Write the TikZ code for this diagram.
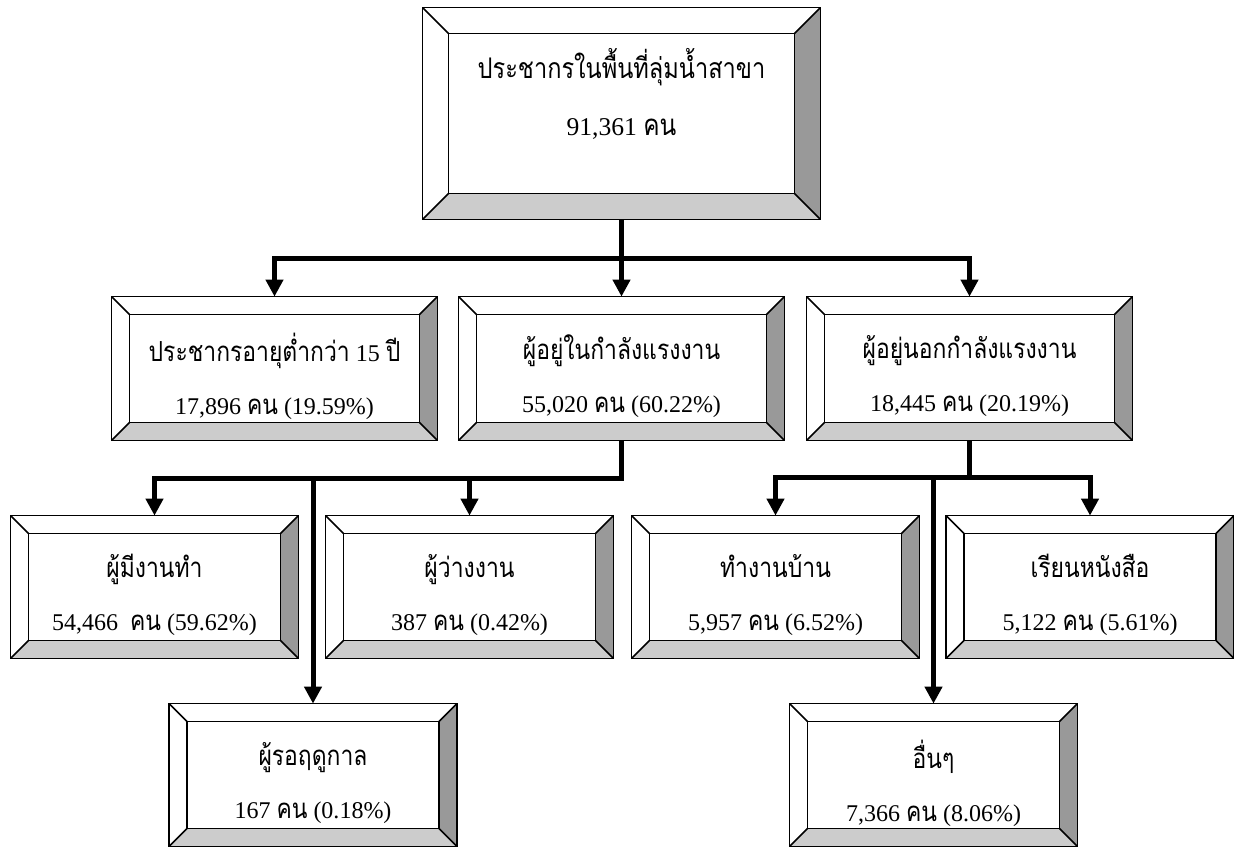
\documentclass[tikz,border=0pt]{standalone}
\usepackage{fontspec}
\setmainfont{Liberation Serif}
\newfontfamily\thaifont[Script=Thai,Scale=1.15,FakeStretch=0.83]{Loma}
\usetikzlibrary{arrows.meta,calc,positioning}
\definecolor{sideface}{gray}{0.6}
\definecolor{baseface}{gray}{0.8}
\tikzset{
  panel/.style={rectangle, inner sep=0pt, minimum width=143.5pt, minimum height=71pt},
  widepanel/.style={panel, minimum width=162.5pt, minimum height=71.5pt},
  toppanel/.style={panel, minimum width=198.5pt, minimum height=105.5pt},
  caption/.style={align=center, inner sep=0pt, font=\fontsize{12}{26.5}\selectfont},
  bigcaption/.style={caption, font=\fontsize{12.8}{28.5}\selectfont},
  edge/.style={line width=0.8pt},
  bus/.style={line width=2.5pt},
  link/.style={bus, -{Triangle[length=8.5pt,width=8.5pt]}},
}

\begin{document}
\begin{tikzpicture}[x=0.5pt,y=-0.5pt]
\useasboundingbox (0,0) rectangle (1234,846);

% boxes
\node[toppanel] (pop) at (621.5,113.5) {};
\node[widepanel] (young) at (274.5,368.5) {};
\node[widepanel] (inlf) at (621.5,368.5) {};
\node[widepanel] (outlf) at (969.5,368.5) {};
\node[panel] (work) at (154.5,587) {};
\node[panel] (jobless) at (469.5,587) {};
\node[panel] (house) at (775.5,587) {};
\node[panel] (study) at (1090,587) {};
\node[panel] (season) at (313,775) {};
\node[panel] (other) at (933.5,775) {};

% bevel frames
\foreach \n/\b in {pop/26,young/18,inlf/18,outlf/18,work/18,jobless/18,house/18,study/18,season/18,other/18}
  {
    \fill[white] (\n.north west) rectangle (\n.south east);
    \fill[sideface] (\n.north east) -- (\n.south east) -- ($(\n.south east)+(-\b,-\b)$) -- ($(\n.north east)+(-\b,\b)$) -- cycle;
    \fill[baseface] (\n.south west) -- (\n.south east) -- ($(\n.south east)+(-\b,-\b)$) -- ($(\n.south west)+(\b,-\b)$) -- cycle;
    \draw[edge] (\n.north west) rectangle (\n.south east);
    \draw[edge] ($(\n.north west)+(\b,\b)$) rectangle ($(\n.south east)+(-\b,-\b)$);
    \foreach \c/\dx/\dy in {north west/1/1,north east/-1/1,south east/-1/-1,south west/1/-1}
      \draw[edge] (\n.\c) -- ++(\dx*\b,\dy*\b);
  }

% texts
\node[bigcaption] (popT) at ([yshift=10pt]pop.center) {{\thaifont\fontsize{12.35}{28.5}\selectfont ประชากรในพื้นที่ลุ่มน้ำสาขา}\\91,361 {\thaifont คน}};
\node[caption] (youngT) at ([yshift=-4pt]young.center) {{\thaifont ประชากรอายุต่ำกว่า} 15 {\thaifont ปี}\\17,896 {\thaifont คน} (19.59\%)};
\node[caption] (inlfT) at ([yshift=-4pt]inlf.center) {{\thaifont ผู้อยู่ในกำลังแรงงาน}\\55,020 {\thaifont คน} (60.22\%)};
\node[caption] (outlfT) at ([yshift=-4pt]outlf.center) {{\thaifont ผู้อยู่นอกกำลังแรงงาน}\\18,445 {\thaifont คน} (20.19\%)};
\node[caption] (workT) at ([yshift=-4pt]work.center) {{\thaifont ผู้มีงานทำ}\\54,466\ \ {\thaifont คน} (59.62\%)};
\node[caption] (joblessT) at ([yshift=-4pt]jobless.center) {{\thaifont ผู้ว่างงาน}\\387 {\thaifont คน} (0.42\%)};
\node[caption] (houseT) at ([yshift=-4pt]house.center) {{\thaifont ทำงานบ้าน}\\5,957 {\thaifont คน} (6.52\%)};
\node[caption] (studyT) at ([yshift=-4pt]study.center) {{\thaifont เรียนหนังสือ}\\5,122 {\thaifont คน} (5.61\%)};
\node[caption] (seasonT) at ([yshift=-4pt]season.center) {{\thaifont ผู้รอฤดูกาล}\\167 {\thaifont คน} (0.18\%)};
\node[caption] (otherT) at ([yshift=-4pt]other.center) {{\thaifont อื่นๆ}\\7,366 {\thaifont คน} (8.06\%)};

% connectors
\coordinate (busA) at (621.5,258);
\coordinate (busB) at (621.5,478);
\coordinate (busC) at (969.5,477);

\draw[link] (pop.south) -- (busA) -| (young.north);
\draw[link] (busA) -| (outlf.north);
\draw[link] (busA) -- (inlf.north);

\draw[link] (inlf.south) -- (busB) -| (work.north);
\draw[link] (jobless.north |- busB) -- (jobless.north);
\draw[link] (season.north |- busB) -- (season.north);

\draw[link] (outlf.south) -- (busC) -| (house.north);
\draw[link] (busC) -| (study.north);
\draw[link] (other.north |- busC) -- (other.north);
\end{tikzpicture}
\end{document}
